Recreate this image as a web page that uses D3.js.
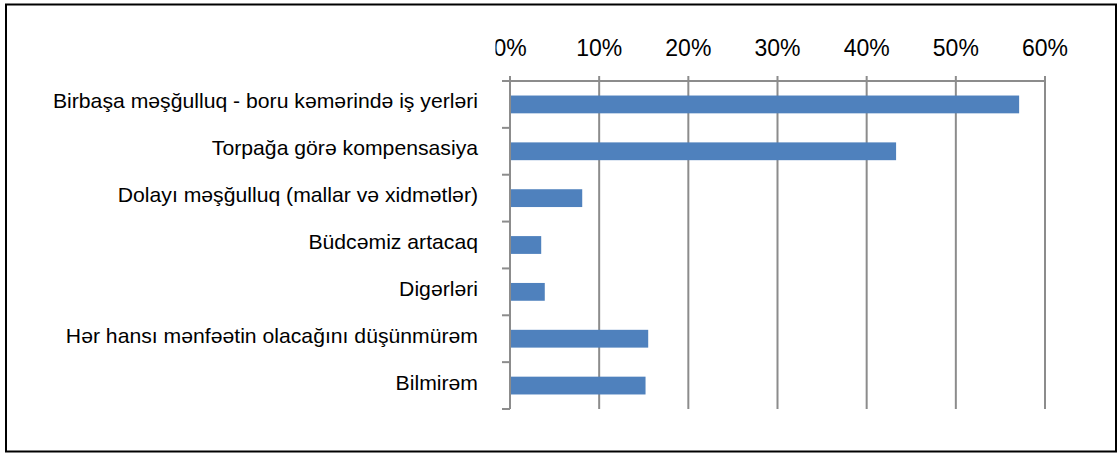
<!DOCTYPE html>
<html>
<head>
<meta charset="utf-8">
<script src="https://cdn.jsdelivr.net/npm/d3@7"></script>
<style>
  body { margin: 0; background: #fff; }
  svg { display: block; font-family: "Liberation Sans", Arial, sans-serif; }
</style>
</head>
<body>
<svg id="chart"></svg>
<script>
// Data
const categories = [
  "Birbaşa məşğulluq - boru kəmərində iş yerləri",
  "Torpağa görə kompensasiya",
  "Dolayı məşğulluq (mallar və xidmətlər)",
  "Büdcəmiz artacaq",
  "Digərləri",
  "Hər hansı mənfəətin olacağını düşünmürəm",
  "Bilmirəm"
];
const values = [57.1, 43.3, 8.1, 3.5, 3.9, 15.5, 15.2];
const xTicks = [0, 10, 20, 30, 40, 50, 60];

const width = 1118;
const height = 453;
const margin = {top: 81, right: 73, bottom: 44, left: 510};
const chartWidth = width - margin.left - margin.right;
const chartHeight = height - margin.top - margin.bottom;

const svg = d3.select("#chart")
  .attr("width", width)
  .attr("height", height);

// outer frame
svg.append("rect")
  .attr("x", 6)
  .attr("y", 4.5)
  .attr("width", 1110)
  .attr("height", 447)
  .attr("fill", "none")
  .attr("stroke", "#000")
  .attr("stroke-width", 2);

const xScale = d3.scaleLinear()
  .domain([0, 60])
  .range([0, chartWidth]);

const yScale = d3.scaleBand()
  .domain(categories)
  .range([0, chartHeight])
  .paddingInner(0.62)
  .paddingOuter(0.31);

const g = svg.append("g")
  .attr("transform", `translate(${margin.left}, ${margin.top})`);

// vertical gridlines
g.append("g")
  .selectAll("line")
  .data(xTicks)
  .join("line")
  .attr("x1", d => xScale(d))
  .attr("x2", d => xScale(d))
  .attr("y1", -5)
  .attr("y2", chartHeight)
  .attr("stroke", "#8c8c8c")
  .attr("stroke-width", 2);

// bars
g.append("g")
  .selectAll("rect")
  .data(values)
  .join("rect")
  .attr("x", xScale(0) + 1)
  .attr("y", (d, i) => yScale(categories[i]))
  .attr("width", d => xScale(d) - 1)
  .attr("height", yScale.bandwidth())
  .attr("fill", "#4f81bd");

// top axis line
g.append("line")
  .attr("x1", -8)
  .attr("x2", chartWidth + 1)
  .attr("y1", 0)
  .attr("y2", 0)
  .attr("stroke", "#8c8c8c")
  .attr("stroke-width", 2);

// category axis line and ticks
g.append("line")
  .attr("x1", 0)
  .attr("x2", 0)
  .attr("y1", 0)
  .attr("y2", chartHeight)
  .attr("stroke", "#8c8c8c")
  .attr("stroke-width", 2);

const bandStep = chartHeight / categories.length;
g.append("g")
  .selectAll("line")
  .data(categories)
  .join("line")
  .attr("x1", -8)
  .attr("x2", 0)
  .attr("y1", (d, i) => (i + 1) * bandStep)
  .attr("y2", (d, i) => (i + 1) * bandStep)
  .attr("stroke", "#8c8c8c")
  .attr("stroke-width", 2);

// x tick labels (0% clipped on the left like the original)
svg.append("clipPath")
  .attr("id", "tickClip")
  .append("rect")
  .attr("x", 495.5 - margin.left)
  .attr("y", -margin.top)
  .attr("width", 620)
  .attr("height", 80);

g.append("g")
  .attr("clip-path", "url(#tickClip)")
  .selectAll("text")
  .data(xTicks)
  .join("text")
  .attr("x", d => xScale(d))
  .attr("y", -25)
  .attr("text-anchor", "middle")
  .attr("font-size", "23px")
  .attr("fill", "#000")
  .text(d => d + "%");

// category labels (slightly stretched, as in the original)
g.append("g")
  .selectAll("text")
  .data(categories)
  .join("text")
  .attr("transform", d => `translate(-32, ${yScale(d) + yScale.bandwidth() / 2 + 4}) scale(1.06, 1)`)
  .attr("text-anchor", "end")
  .attr("font-size", "20px")
  .attr("fill", "#000")
  .text(d => d);
</script>
</body>
</html>
